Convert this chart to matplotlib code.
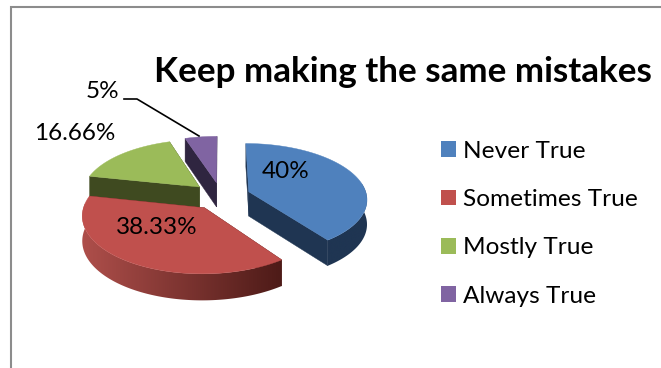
import numpy as np
import matplotlib
matplotlib.use("Agg")
import matplotlib.pyplot as plt
from matplotlib.colors import to_rgb
from matplotlib.patches import Patch, Polygon

categories = ["Never True", "Sometimes True", "Mostly True", "Always True"]
values = [40, 38.33, 16.66, 5]
title = "Keep making the same mistakes"

top_colors = ["#4F81BD", "#C0504D", "#9BBB59", "#8064A2"]
wall_colors = ["#1F3552", "#4E1B18", "#3F4A20", "#2F2540"]
rim_far_colors = ["#24405F", "#AD4E4A", "#3F4A20", "#2F2540"]

# Pie projection: a disc tilted back, with perspective shrinking the far side.
CX, CY = 221.0, 196.0
RX, RY = 118.0, 55.0
PERSPECTIVE = 0.12
EXPLODE = 0.25

plt.rcParams["font.family"] = ["Lato", "DejaVu Sans"]

fig = plt.figure(figsize=(6.61, 3.68), dpi=100)
ax = fig.add_axes([0, 0, 1, 1])
ax.axis("off")


def project(u, v, lower=False):
    s = 1.0 / (1.0 + PERSPECTIVE * v)
    x = CX + RX * u * s
    y = CY - RY * v * s
    if lower:
        y = y + 12.5 + 12 * s
    return x, y


def slice_geometry(start, end):
    mid = np.radians((start + end) / 2)
    ou, ov = EXPLODE * np.sin(mid), EXPLODE * np.cos(mid)
    theta = np.radians(np.linspace(start, end, 160))
    u = ou + np.sin(theta)
    v = ov + np.cos(theta)
    return ou, ov, u, v, np.degrees(theta)


def draw_slice(start, end, top, wall, rim_far, z):
    ou, ov, u, v, deg = slice_geometry(start, end)

    # Cut faces on both sides of the slice
    for eu, ev in ((u[0], v[0]), (u[-1], v[-1])):
        corners = [project(ou, ov), project(eu, ev),
                   project(eu, ev, True), project(ou, ov, True)]
        ax.add_patch(Polygon(corners, closed=True, fc=wall, ec=wall, lw=0.3, zorder=z))

    # Outer rim: a horizontal colour ramp clipped to the visible side band
    keep = (deg >= 80) & (deg <= 275)
    if keep.sum() > 1:
        upper = [project(a, b) for a, b in zip(u[keep], v[keep])]
        lower = [project(a, b, True) for a, b in zip(u[keep], v[keep])]
        band = Polygon(upper + lower[::-1], closed=True, fc="none", ec="none",
                       transform=ax.transData)
        ax.add_patch(band)
        xs = np.linspace(70, 400, 512)
        ramp = np.clip((xs - 85) / 195, 0, 1)[None, :, None]
        far, near = np.array(to_rgb(rim_far)), np.array(to_rgb(wall))
        image = ax.imshow(far + (near - far) * ramp, extent=(70, 400, 320, 130),
                          aspect="auto", interpolation="bilinear", zorder=z + 0.1)
        image.set_clip_path(band)

    # Top surface
    outline = [project(ou, ov)] + [project(a, b) for a, b in zip(u, v)]
    ax.add_patch(Polygon(outline, closed=True, fc=top, ec=top, lw=0.3, zorder=z + 0.2))


total = sum(values)
edges = np.concatenate([[0], np.cumsum(values) / total * 360])
for z, i in enumerate((3, 2, 0, 1), start=1):
    draw_slice(edges[i], edges[i + 1], top_colors[i], wall_colors[i],
               rim_far_colors[i], z)

ax.set_xlim(0, 661)
ax.set_ylim(368, 0)

# Frame around the chart, open towards the right and the bottom
ax.plot([11, 11, 661], [368, 6.5, 6.5], color="#8C8C8C", lw=1.5,
        solid_joinstyle="miter", zorder=6)

ax.text(403, 72, title, fontsize=25.2, fontweight="bold", color="black",
        ha="center", va="center", zorder=7)

label_positions = [(286, 172), (157, 228), (75, 133), (102, 91.5)]
for value, (x, y) in zip(values, label_positions):
    ax.text(x, y, f"{value:g}%", fontsize=17.5, color="black",
            ha="center", va="center", zorder=7)

# Leader line for the smallest slice
ax.plot([124, 137, 199], [99, 99, 136], color="black", lw=1.2, zorder=7)

handles = [Patch(fc=c, ec="none") for c in top_colors]
legend = ax.legend(handles, categories, loc="center left",
                   bbox_to_anchor=(441 / 661, 1 - 223.8 / 368), frameon=False,
                   fontsize=17.6, handlelength=0.61, handleheight=0.61,
                   handletextpad=0.29, labelspacing=1.12, borderpad=0,
                   borderaxespad=0)
legend.set_zorder(7)

fig.savefig("out.png", dpi=100)
